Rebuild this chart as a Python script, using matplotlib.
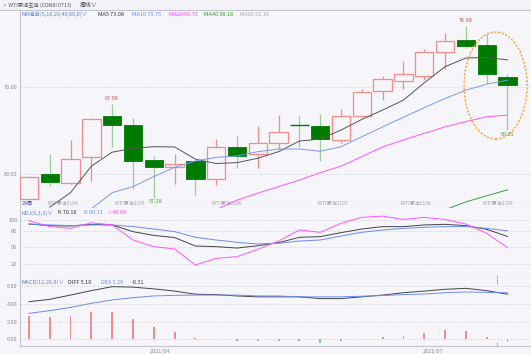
import numpy as np
import matplotlib
matplotlib.use("Agg")
import matplotlib.pyplot as plt
from matplotlib.patches import Rectangle, Ellipse

plt.rcParams['font.family'] = ['Noto Sans CJK SC', 'DejaVu Sans']

# ---------------- data ----------------
opens  = [57.10, 60.00, 58.93, 62.00, 66.70, 65.57, 61.60, 60.84, 61.50, 59.40, 63.05, 62.30,
          63.60, 65.62, 65.50, 63.90, 66.70, 69.54, 70.65, 71.20, 74.00, 75.40, 74.77, 71.15]
closes = [59.69, 59.05, 61.70, 66.30, 65.60, 61.50, 60.80, 61.20, 59.40, 63.10, 62.06, 63.50,
          64.85, 65.58, 64.00, 66.60, 69.40, 70.84, 71.50, 74.00, 75.20, 74.66, 71.45, 70.15]
highs  = [59.80, 62.30, 63.90, 66.40, 67.98, 66.40, 62.06, 62.25, 61.50, 64.00, 64.35, 65.50,
          66.75, 66.60, 66.90, 67.50, 69.80, 71.26, 73.00, 74.30, 76.20, 76.98, 76.00, 71.45]
lows   = [57.10, 58.60, 58.90, 59.20, 63.10, 58.30, 57.28, 58.85, 57.60, 58.70, 60.65, 60.65,
          62.90, 63.10, 61.50, 63.60, 66.50, 68.47, 69.80, 70.80, 72.00, 74.50, 70.40, 65.01]
nan = np.nan
ma5  = [nan, 56.2, 57.86, 60.9, 62.5, 62.94, 63.13, 63.1, 61.7, 61.2, 61.3, 61.8, 62.56, 63.78,
        64.0, 65.04, 66.26, 67.33, 68.47, 70.46, 72.3, 73.3, 73.36, 73.08]
ma10 = [nan, nan, nan, 56.0, 57.86, 58.55, 59.7, 60.76, 61.5, 61.9, 62.06, 62.56, 62.86, 62.86,
        62.6, 63.13, 64.27, 65.4, 66.5, 67.6, 68.66, 69.6, 70.3, 70.75]
ma20 = [nan]*9 + [55.9, 57.0, 57.8, 58.55, 59.3, 60.15, 60.9, 62.0, 63.1, 63.9, 64.66, 65.4,
                  66.0, 66.56, 66.75]
ma40 = [nan]*20 + [55.9, 56.8, 57.5, 58.18]

k_vals = [92.7, 89.7, 89.1, 92.1, 91.0, 78.8, 72.0, 68.0, 52.7, 51.5, 49.0, 53.3, 58.8, 68.5,
          69.7, 77.0, 83.6, 87.9, 87.9, 91.0, 92.1, 89.7, 83.0, 70.16]
d_vals = [92.7, 91.0, 89.7, 91.0, 91.0, 88.0, 83.6, 78.8, 68.5, 63.6, 59.4, 56.4, 57.6, 61.8,
          63.6, 70.9, 77.6, 81.8, 84.8, 86.7, 88.0, 88.0, 84.8, 80.31]
j_vals = [98.8, 88.0, 84.8, 95.0, 91.0, 63.6, 51.5, 47.3, 18.2, 30.3, 33.3, 46.7, 61.8, 81.8,
          77.6, 94.0, 104.8, 107.0, 101.0, 104.8, 101.0, 92.7, 75.8, 49.84]

diff_vals = [4.25, 4.52, 5.0, 5.5, 5.95, 5.9, 5.7, 5.45, 5.1, 5.05, 4.9, 4.8, 4.8, 4.8, 4.6, 4.6,
             4.8, 5.0, 5.27, 5.45, 5.65, 5.76, 5.5, 5.10]
dea_vals = [2.93, 3.24, 3.6, 4.07, 4.45, 4.7, 4.9, 4.97, 5.0, 5.0, 5.0, 4.9, 4.9, 4.8, 4.8, 4.8,
            4.87, 4.95, 5.05, 5.12, 5.27, 5.35, 5.3, 5.26]
hist_vals = [2.63, 2.57, 2.68, 3.05, 3.05, 2.27, 1.44, 0.83, 0.1, 0.02, -0.15, -0.15, -0.15,
             -0.15, -0.45, -0.25, 0.0, 0.23, 0.4, 0.75, 1.0, 0.9, 0.26, -0.31]

contract_labels = ["WTI原油2104", "WTI原油2105", "WTI原油2106", "WTI原油2107", "WTI原油2108", "WTI原油2109"]
contract_pos = [1.6, 4.85, 9.5, 14.6, 18.6, 22.5]
date_labels = ["2021/04", "2021/07"]
date_pos = [6.3, 19.4]

main_ticks = [60, 70]
kdj_ticks = [20, 50, 80, 100]
macd_ticks = [0, 2, 4, 6]

# ---------------- layout ----------------
W, H = 531, 354
BG = "#F5F5FA"
LINE = "#C4C4CC"
TXT = "#8A8A92"
UP = "#F08C8C"
DOWN = "#007A00"
DOWN_WICK = "#9CCB9C"

fig = plt.figure(figsize=(W / 100, H / 100), dpi=100, facecolor=BG)

def box(x0, y0, x1, y1):
    return [x0 / W, 1 - y1 / H, (x1 - x0) / W, (y1 - y0) / H]

x = np.arange(len(opens))
XL = (-0.43, 24.13)

ax_m = fig.add_axes(box(20, 10, 531, 208))
ax_k = fig.add_axes(box(20, 208, 531, 278))
ax_d = fig.add_axes(box(20, 278, 531, 346))

for ax in (ax_m, ax_k, ax_d):
    ax.set_facecolor(BG)
    ax.set_xlim(*XL)
    ax.set_xticks([])
    for s in ("right", "top"):
        ax.spines[s].set_visible(False)
    ax.spines["left"].set_color(LINE)
    ax.spines["bottom"].set_color(LINE)
    ax.spines["left"].set_linewidth(0.8)
    ax.spines["bottom"].set_linewidth(0.8)
    ax.tick_params(axis="y", length=0, labelsize=4, labelcolor=TXT, pad=2)

# ---------- main panel ----------
ax_m.set_ylim(56.1, 78.8)
ax_m.set_yticks(main_ticks)
ax_m.set_yticklabels([f"{v:.2f}" for v in main_ticks])
for v in main_ticks:
    ax_m.axhline(v, color="#D4D4DC", lw=0.6, ls=(0, (2, 2)), zorder=0)

bw = 0.88
for i in range(len(opens)):
    o, c, h, l = opens[i], closes[i], highs[i], lows[i]
    if c > o:
        ax_m.vlines(i, c, h, color=UP, lw=0.9, zorder=2)
        ax_m.vlines(i, l, o, color=UP, lw=0.9, zorder=2)
        ax_m.add_patch(Rectangle((i - bw / 2, o), bw, c - o, facecolor=BG, edgecolor=UP,
                                 lw=0.9, zorder=3))
    else:
        ax_m.vlines(i, l, h, color=DOWN_WICK, lw=0.9, zorder=2)
        if abs(o - c) < 0.1:
            ax_m.hlines((o + c) / 2, i - bw / 2, i + bw / 2, color=DOWN, lw=1.0, zorder=3)
        else:
            ax_m.add_patch(Rectangle((i - bw / 2, c), bw, o - c, facecolor=DOWN, edgecolor=DOWN,
                                     lw=0.6, zorder=3))

ax_m.plot(x, ma5, color="#555555", lw=0.7, zorder=4)
ax_m.plot(x, ma10, color="#7C98F0", lw=0.7, zorder=4)
ax_m.plot(x, ma20, color="#FF55FF", lw=0.7, zorder=4)
ax_m.plot(x, ma40, color="#3CA03C", lw=0.7, zorder=4)

ax_m.text(4, highs[4] + 0.35, f"{highs[4]:.2f}", color="#F04848", fontsize=4, ha="center", va="bottom")
ax_m.text(21, highs[21] + 0.35, f"{highs[21]:.2f}", color="#F04848", fontsize=4, ha="center", va="bottom")
ax_m.text(23, lows[23] - 0.2, f"{lows[23]:.2f}", color="#3CA03C", fontsize=4, ha="center", va="top")
ax_m.text(6.1, lows[6] - 0.15, f"{lows[6]:.2f}", color="#3CA03C", fontsize=4, ha="center", va="top")

for lab, p in zip(contract_labels, contract_pos):
    ax_m.text(p, 56.35, "-" + lab, color="#A0A0A8", fontsize=3.6, ha="center", va="bottom")
ax_m.text(-0.35, 56.35, "24周", color="#3050C0", fontsize=3.8, ha="left", va="bottom")

ax_m.add_patch(Ellipse((22.43, 70.14), 3.03, 12.26, fill=False, edgecolor="#F5A030",
                       lw=1.0, ls=(0, (1.5, 1.2)), zorder=6))

# legend line of main panel
leg = [("MA组合(5,10,20,40,60,0)∨", "#5B7FE0", 22),
       ("MA5 73.08", "#333333", 98),
       ("MA10 70.75", "#6A8CFF", 132),
       ("MA20 66.75", "#FF40FF", 169),
       ("MA40 58.18", "#30A030", 204),
       ("MA60 52.16", "#A8A8A8", 240)]
for t, col, px in leg:
    fig.text(px / W, 1 - 14 / H, t, color=col, fontsize=4, ha="left", va="center")

# header
fig.patches.append(Rectangle((0, 1 - 10 / H), 1, 10 / H, transform=fig.transFigure,
                             facecolor="#F2F2F7", edgecolor="none", zorder=-1))
fig.text(2 / W, 1 - 5.5 / H, "◦ WTI原油主连 (CONIII 0713)", color="#555555", fontsize=3.8,
         ha="left", va="center")
fig.text(80 / W, 1 - 5.5 / H, "周线∨", color="#444444", fontsize=4.2, ha="left", va="center")
fig.lines.append(plt.Line2D([0, 1], [1 - 10 / H, 1 - 10 / H], transform=fig.transFigure,
                            color=LINE, lw=0.8))

# ---------- KDJ panel ----------
ax_k.set_ylim(-5.5, 121.8)
ax_k.set_yticks(kdj_ticks)
ax_k.set_yticklabels([str(v) for v in kdj_ticks])
for v in kdj_ticks:
    ax_k.axhline(v, color="#D4D4DC", lw=0.6, ls=(0, (2, 2)), zorder=0)
ax_k.plot(x, k_vals, color="#444444", lw=0.7)
ax_k.plot(x, d_vals, color="#6A8CEE", lw=0.7)
ax_k.plot(x, j_vals, color="#FF55FF", lw=0.7)
ax_k.vlines(22.5, -5.5, 0.5, color="#B0B0B8", lw=0.8)
for t, col, px in [("KDJ(9,3,3)∨", "#5B7FE0", 22), ("K 70.16", "#333333", 58),
                   ("D 80.31", "#6A8CFF", 84), ("J 49.84", "#FF40FF", 108)]:
    fig.text(px / W, 1 - 213 / H, t, color=col, fontsize=4, ha="left", va="center")

# ---------- MACD panel ----------
ax_d.set_ylim(-0.76, 6.93)
ax_d.set_yticks(macd_ticks)
ax_d.set_yticklabels([f"{v:.2f}" for v in macd_ticks])
for v in macd_ticks:
    ax_d.axhline(v, color="#D4D4DC", lw=0.6, ls=(0, (2, 2)), zorder=0)
hist_cols = [UP if v >= 0 else "#8CC88C" for v in hist_vals]
ax_d.bar(x, hist_vals, width=0.09, color=hist_cols, zorder=2)
ax_d.plot(x, diff_vals, color="#444444", lw=0.7, zorder=3)
ax_d.plot(x, dea_vals, color="#6A8CEE", lw=0.7, zorder=3)
ax_d.vlines(22.5, 6.3, 6.93, color="#B0B0B8", lw=0.8)
ax_d.vlines(22.5, -0.76, -0.35, color="#B0B0B8", lw=0.8)
for t, col, px in [("MACD(12,26,9)∨", "#5B7FE0", 22), ("DIFF 5.10", "#333333", 68),
                   ("DEA 5.26", "#6A8CFF", 101), ("-0.31", "#333333", 132)]:
    fig.text(px / W, 1 - 282 / H, t, color=col, fontsize=4, ha="left", va="center")

for lab, p in zip(date_labels, date_pos):
    px = 20 + (p - XL[0]) / (XL[1] - XL[0]) * (W - 20)
    fig.text(px / W, 1 - 351 / H, lab, color=TXT, fontsize=4, ha="center", va="center")

fig.savefig("out.png", dpi=100, facecolor=BG)
